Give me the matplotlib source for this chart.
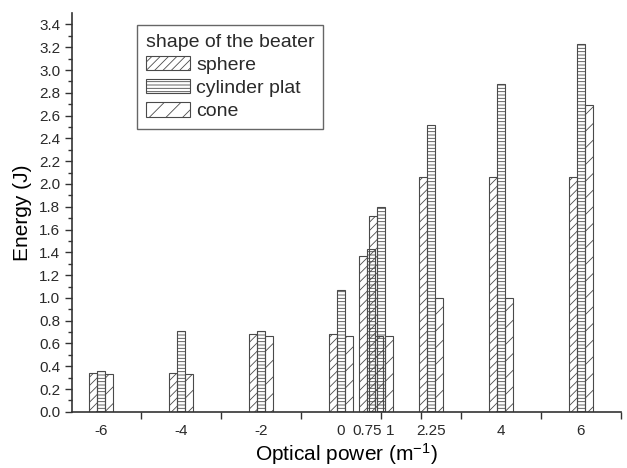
import matplotlib
matplotlib.use("Agg")
import matplotlib.pyplot as plt
import numpy as np

# optical power (m^-1) for each group of bars
power = [-6, -4, -2, 0, 0.75, 1, 2.25, 4, 6]
power_labels = ["-6", "-4", "-2", "0", "0.75", "1", "2.25", "4", "6"]

# energy (J) per beater shape
sphere = [0.34, 0.34, 0.68, 0.68, 1.37, 1.72, 2.06, 2.06, 2.06]
cylinder = [0.355, 0.71, 0.71, 1.07, 1.43, 1.80, 2.52, 2.88, 3.23]
cone = [0.335, 0.335, 0.67, 0.67, 0.67, 0.67, 1.00, 1.00, 2.69]

plt.rcParams["font.family"] = ["Liberation Sans", "DejaVu Sans"]
plt.rcParams["mathtext.fontset"] = "custom"
plt.rcParams["mathtext.rm"] = "Liberation Sans"
plt.rcParams["mathtext.default"] = "regular"
plt.rcParams["hatch.linewidth"] = 0.6
plt.rcParams["text.color"] = "#2a2a2a"

fig = plt.figure(figsize=(6.27, 4.68), dpi=100)
ax = fig.add_axes([0.115, 0.12, 0.875, 0.852])

x = np.array(power)
w = 0.2
edge = "#4a4a4a"
series = [
    ("sphere", sphere, -w, "////"),
    ("cylinder plat", cylinder, 0.0, "-----"),
    ("cone", cone, w, "//"),
]
for name, vals, off, hatch in series:
    ax.bar(x + off, vals, width=w, facecolor="none", edgecolor=edge,
           hatch=hatch, linewidth=0.8, label=name)

ax.set_xlim(-6.72, 7.0)
ax.set_ylim(0, 3.5)

# labels spread a little around 0.75 / 1 so they do not collide,
# tick marks sit at the integers plus one near 0.75
label_pos = [-6, -4, -2, 0, 0.66, 1.23, 2.25, 4, 6]
ax.set_xticks(label_pos)
ax.set_xticklabels(power_labels)
ax.set_xticks(list(range(-6, 8)) + [0.66], minor=True)
ax.tick_params(axis="x", which="major", length=0, pad=9, labelsize=11,
               labelcolor="#2a2a2a")
ax.tick_params(axis="x", which="minor", length=5, width=1.0,
               direction="out", color="#333333")

ax.set_yticks(np.arange(0, 3.41, 0.2))
ax.set_yticklabels([f"{v:.1f}" for v in np.arange(0, 3.41, 0.2)])
ax.set_yticks(np.arange(0.1, 3.5, 0.2), minor=True)
ax.tick_params(axis="y", which="major", length=5, width=1.0, labelsize=11,
               color="#333333", labelcolor="#2a2a2a")
ax.tick_params(axis="y", which="minor", length=3, width=1.0,
               color="#333333")

for s in ["top", "right"]:
    ax.spines[s].set_visible(False)
for s in ["left", "bottom"]:
    ax.spines[s].set_color("#333333")
    ax.spines[s].set_linewidth(1.2)

ax.set_xlabel("Optical power (m$^{-1}$)", fontsize=15, labelpad=2)
ax.set_ylabel("Energy (J)", fontsize=15, labelpad=5)

leg = ax.legend(title="shape of the beater", loc="upper left",
                bbox_to_anchor=(0.118, 0.97), borderaxespad=0,
                fontsize=14, title_fontsize=14,
                fancybox=False, framealpha=1, edgecolor="#666666",
                handlelength=2.3, handleheight=0.77, labelspacing=0.26,
                handletextpad=0.3, borderpad=0.45, alignment="left")
leg.get_frame().set_linewidth(1.0)

fig.savefig("out.png", dpi=100)
